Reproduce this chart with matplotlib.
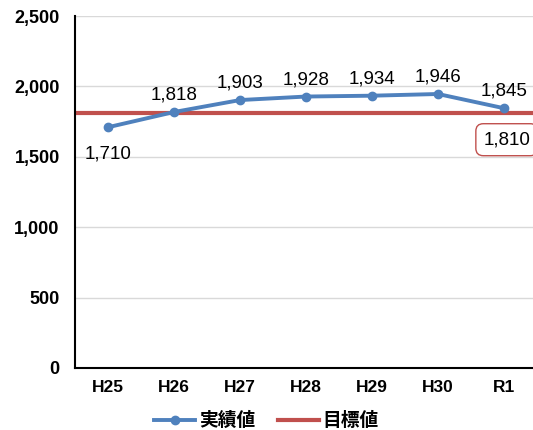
import matplotlib.pyplot as plt
import matplotlib.ticker as mticker

plt.rcParams['font.family'] = ['Liberation Sans', 'Noto Sans CJK JP', 'DejaVu Sans']

# データ
years = ['H25', 'H26', 'H27', 'H28', 'H29', 'H30', 'R1']
jisseki = [1710, 1818, 1903, 1928, 1934, 1946, 1845]
mokuhyo = 1810
yticks = [0, 500, 1000, 1500, 2000, 2500]

blue = '#4F81BD'
red = '#C0504D'

fig = plt.figure(figsize=(5.33, 4.30), dpi=100)
ax = fig.add_axes([75 / 533, 62 / 430, 462 / 533, 352 / 430])

x = list(range(len(years)))
ax.plot(x, jisseki, color=blue, linewidth=2.8, marker='o', markersize=6, label='実績値', zorder=3)
ax.axhline(mokuhyo, color=red, linewidth=3, label='目標値', zorder=2)

# データラベル
for i, v in enumerate(jisseki):
    if i == 0:
        ax.annotate(f'{v:,}', (i, v), xytext=(0, -13), textcoords='offset points',
                    ha='center', va='top', fontsize=13.5)
    else:
        ax.annotate(f'{v:,}', (i, v), xytext=(0, 6), textcoords='offset points',
                    ha='center', va='bottom', fontsize=13.5)
ax.annotate(f'{mokuhyo:,}', (6, mokuhyo), xytext=(2, -13), textcoords='offset points',
            ha='center', va='top', fontsize=13.5,
            bbox=dict(boxstyle='round,pad=0.4', fc='white', ec=red, lw=1))

ax.set_xlim(-0.5, 6.5)
ax.set_ylim(0, 2500)
ax.set_xticks(x)
ax.set_xticklabels(years, fontsize=12.5, fontweight='bold')
ax.set_yticks(yticks)
ax.yaxis.set_major_formatter(mticker.FuncFormatter(lambda v, p: f'{int(v):,}'))
for t in ax.get_yticklabels():
    t.set_fontsize(13)
    t.set_fontweight('bold')
ax.tick_params(length=0)
ax.tick_params(axis='y', pad=11)
ax.tick_params(axis='x', pad=9)
ax.grid(axis='y', color='#D9D9D9', linewidth=1)
ax.set_axisbelow(True)
for s in ['top', 'right']:
    ax.spines[s].set_visible(False)
ax.spines['left'].set_linewidth(1.5)
ax.spines['bottom'].set_linewidth(1.5)

fig.legend(loc='lower center', bbox_to_anchor=(0.5, -0.04), ncol=2, frameon=False,
           prop={'family': ['Noto Sans CJK JP'], 'size': 13.5, 'weight': 'bold'},
           handlelength=2.2, handletextpad=0.2, columnspacing=1.2)

plt.savefig('out.png', dpi=100)
